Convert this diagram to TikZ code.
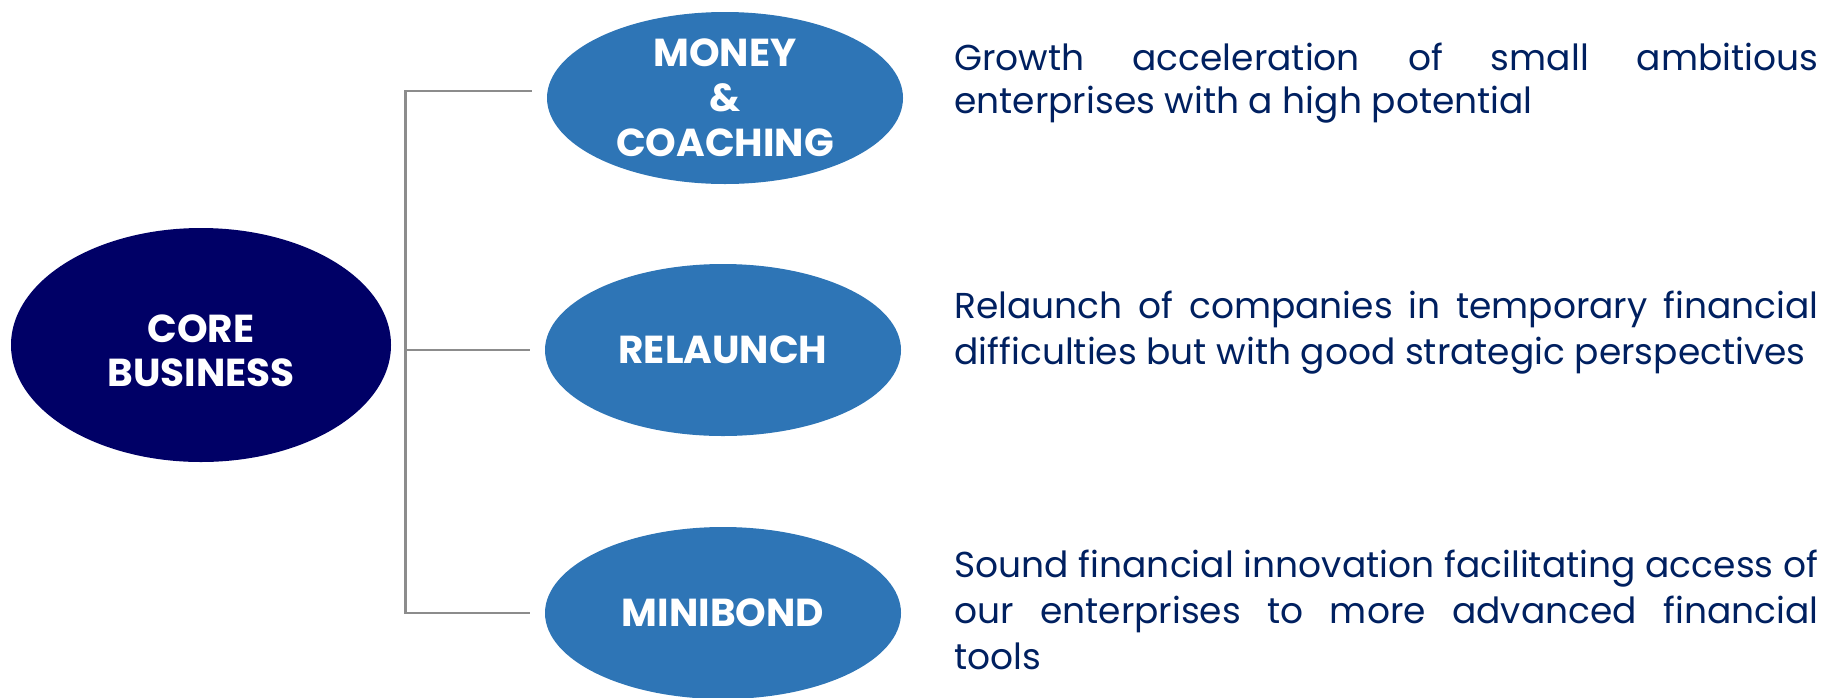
\documentclass[tikz,border=0pt]{standalone}
\usepackage{fontspec}
\setmainfont{Poppins}
\usepackage{tikz}
\usetikzlibrary{shapes.geometric}

\definecolor{corenavy}{HTML}{000066}
\definecolor{branchblue}{HTML}{2E75B6}
\definecolor{textnavy}{HTML}{002060}
\definecolor{bracketgray}{HTML}{8C8C8C}

\tikzset{
  core/.style={ellipse, fill=corenavy, text=white, font=\fontsize{19.5}{22}\selectfont\bfseries,
    align=center, inner sep=0pt, minimum width=190pt, minimum height=117pt},
  branch/.style={ellipse, fill=branchblue, text=white, font=\fontsize{19.5}{22.5}\selectfont\bfseries,
    align=center, inner xsep=0pt, inner ysep=-8pt, minimum width=178pt, minimum height=86pt},
  blurb/.style={anchor=base west, text width=432pt, align=justify, inner sep=0pt,
    text=textnavy, font=\fontsize{18}{23}\selectfont},
  bracket/.style={bracketgray, line width=1.3pt}
}

\begin{document}
\begin{tikzpicture}[x=0.5pt,y=-0.5pt]
  \useasboundingbox (0,0) rectangle (1824,697);

  % the rule pushes the two lines a bit below the centre
  \node[core] (core) at (201,345) {\rule{0pt}{19.5pt}CORE\\BUSINESS};

  \node[branch] (money) at (725,98) {MONEY\\\&\\COACHING};
  \node[branch] (relaunch) at (723,350) {RELAUNCH};
  \node[branch] (minibond) at (723,613) {MINIBOND};

  % bracket joining the three activities
  \draw[bracket] ([xshift=-7.5pt,yshift=3.5pt]money.west) -| ([xshift=-69.5pt]minibond.west)
    -- ([xshift=-7.5pt]minibond.west);
  \draw[bracket] ([xshift=-7.5pt]relaunch.west) -- ++(-62pt,0);

  \node[blurb,font=\fontsize{18}{21.5}\selectfont] (moneytxt) at (954,70)
    {Growth acceleration of small ambitious\linebreak
    enterprises with a high potential};
  \node[blurb] (relaunchtxt) at (954,318) {Relaunch of companies in temporary financial\linebreak
    difficulties but with good strategic perspectives};
  \node[blurb] (minibondtxt) at (954,577) {Sound financial innovation facilitating access of\linebreak
    our enterprises to more advanced financial\linebreak tools};
\end{tikzpicture}
\end{document}
